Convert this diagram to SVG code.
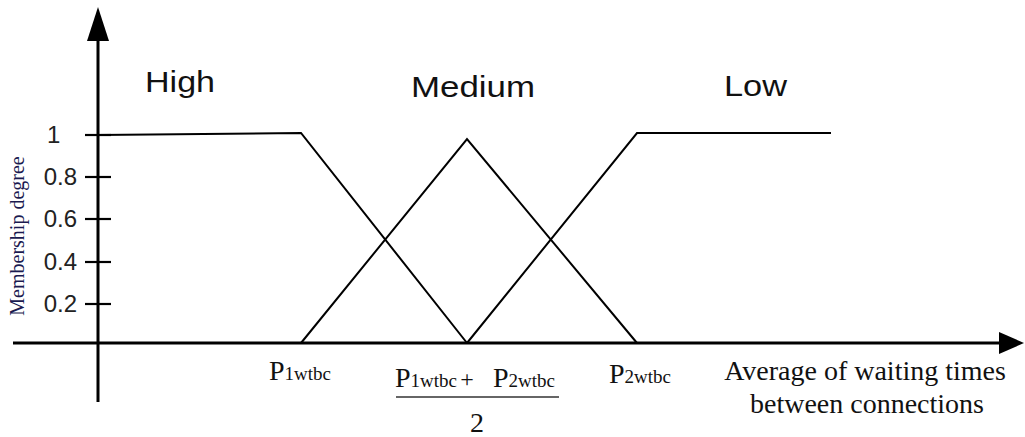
<svg xmlns="http://www.w3.org/2000/svg" width="1025" height="437" viewBox="0 0 1025 437">
<style>
.axis{stroke:#000;stroke-width:3;fill:none}
.tick{stroke:#000;stroke-width:2.2}
.mf{stroke:#000;stroke-width:2;fill:none;stroke-linejoin:miter}
.lbl{font-family:"Liberation Sans",Arial,sans-serif;font-size:30px;fill:#111}
.num{font-family:"Liberation Sans",Arial,sans-serif;font-size:24px;fill:#222}
.ser{font-family:"Liberation Serif","Times New Roman",serif;fill:#111}
.sub{font-size:19px}
</style>
<g id="connectors">
<line class="axis" x1="98" y1="402" x2="98" y2="38"/>
<polygon points="98,7 87,41 109,41" fill="#000"/>
<line class="axis" x1="13" y1="343" x2="1002" y2="343"/>
<polygon points="1024,343 999,332 999,354" fill="#000"/>
<line class="tick" x1="85" y1="135" x2="111" y2="135"/>
<line class="tick" x1="85" y1="177" x2="111" y2="177"/>
<line class="tick" x1="85" y1="219" x2="111" y2="219"/>
<line class="tick" x1="85" y1="262" x2="111" y2="262"/>
<line class="tick" x1="85" y1="304" x2="111" y2="304"/>
<polyline id="high-mf" class="mf" points="98,135 301,133 467,343"/>
<polyline id="medium-mf" class="mf" points="301,343 467,139 637,343"/>
<polyline id="low-mf" class="mf" points="467,343 637,133 831,133"/>
</g>
<g id="ticks-labels">
<text class="num" x="47" y="143">1</text>
<text class="num" x="77" y="185" text-anchor="end">0.8</text>
<text class="num" x="77" y="227" text-anchor="end">0.6</text>
<text class="num" x="77" y="270" text-anchor="end">0.4</text>
<text class="num" x="77" y="312" text-anchor="end">0.2</text>
</g>
<g id="ylabel">
<text class="ser" x="0" y="0" font-size="20" text-anchor="middle" transform="translate(24,236) rotate(-90)" style="fill:#1a1a50">Membership degree</text>
</g>
<g id="high"><text class="lbl" x="145" y="92" textLength="70" lengthAdjust="spacingAndGlyphs">High</text></g>
<g id="medium"><text class="lbl" x="411" y="97" textLength="124" lengthAdjust="spacingAndGlyphs">Medium</text></g>
<g id="low"><text class="lbl" x="724" y="96" textLength="63" lengthAdjust="spacingAndGlyphs">Low</text></g>
<g id="p1">
<text class="ser" x="269" y="380" font-size="28">P<tspan class="sub">1wtbc</tspan></text>
</g>
<g id="mid">
<text class="ser" x="395" y="387" font-size="28">P<tspan class="sub">1wtbc</tspan></text>
<text class="ser" x="467" y="387" font-size="24" text-anchor="middle">+</text>
<text class="ser" x="493" y="387" font-size="28">P<tspan class="sub">2wtbc</tspan></text>
<line x1="396" y1="397" x2="559" y2="397" stroke="#333" stroke-width="1.3"/>
<text class="ser" x="477" y="432" font-size="28" text-anchor="middle">2</text>
</g>
<g id="p2">
<text class="ser" x="609" y="383" font-size="28">P<tspan class="sub">2wtbc</tspan></text>
</g>
<g id="xlabel">
<text class="ser" x="865" y="380" font-size="28" text-anchor="middle">Average of waiting times</text>
<text class="ser" x="867" y="413" font-size="28" text-anchor="middle">between connections</text>
</g>
</svg>
